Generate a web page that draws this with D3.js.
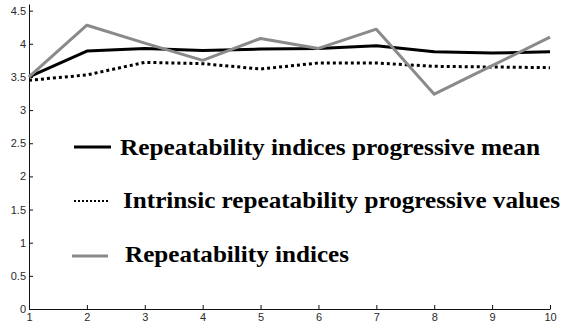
<!DOCTYPE html>
<html>
<head>
<meta charset="utf-8">
<script src="https://cdn.jsdelivr.net/npm/d3@7"></script>
<style>
  body { margin: 0; background: #fff; }
  .axis text { font-family: Arial, "Liberation Sans", sans-serif; font-size: 11px; fill: #2a2a2a; }
  .axis path, .axis line { stroke: #111; }
  .legend text { font-family: "Times New Roman", "Liberation Serif", serif; font-weight: bold; font-size: 24px; fill: #000; }
</style>
</head>
<body>
<svg id="chart" width="561" height="331"></svg>
<script>
// data
var steps = [1, 2, 3, 4, 5, 6, 7, 8, 9, 10];
var progMean = [3.50, 3.89, 3.93, 3.90, 3.92, 3.93, 3.97, 3.88, 3.86, 3.88];
var intrinsic = [3.45, 3.53, 3.72, 3.70, 3.62, 3.71, 3.71, 3.66, 3.65, 3.64];
var indices = [3.50, 4.28, 4.01, 3.75, 4.08, 3.93, 4.22, 3.24, 3.67, 4.10];
var yTicks = [0, 0.5, 1, 1.5, 2, 2.5, 3, 3.5, 4, 4.5];
var legendNames = [
  "Repeatability indices progressive mean",
  "Intrinsic repeatability progressive values",
  "Repeatability indices"
];

var svg = d3.select("#chart");

var x = d3.scaleLinear().domain([1, 10]).range([29, 550]);
var y = d3.scaleLinear().domain([0, 4.6]).range([309, 4]);

// axes, ticks point inward
svg.append("g")
  .attr("class", "axis")
  .attr("transform", "translate(0,309)")
  .call(d3.axisBottom(x).tickValues(steps).tickFormat(d3.format("d"))
    .tickSizeInner(-4).tickSizeOuter(0).tickPadding(4));

svg.append("g")
  .attr("class", "axis")
  .attr("transform", "translate(29,0)")
  .call(d3.axisLeft(y).tickValues(yTicks).tickFormat(d3.format("~g"))
    .tickSizeInner(-4).tickSizeOuter(0).tickPadding(3));

var line = function (vals) {
  return d3.line()
    .x(function (d, i) { return x(steps[i]); })
    .y(function (d) { return y(d); })(vals);
};

svg.append("path")
  .attr("d", line(intrinsic))
  .attr("fill", "none")
  .attr("stroke", "#000")
  .attr("stroke-width", 3)
  .attr("stroke-dasharray", "3,3");

svg.append("path")
  .attr("d", line(progMean))
  .attr("fill", "none")
  .attr("stroke", "#000")
  .attr("stroke-width", 3)
  .attr("stroke-linejoin", "round");

svg.append("path")
  .attr("d", line(indices))
  .attr("fill", "none")
  .attr("stroke", "#8a8a8a")
  .attr("stroke-width", 3)
  .attr("stroke-linejoin", "round");

// legend
var lg = svg.append("g").attr("class", "legend");
var legendStyle = [
  { color: "#000", dash: null, width: 3, x1: 74, x2: 111, ly: 147, tx: 120, by: 155, len: 420 },
  { color: "#000", dash: "2,2", width: 2, x1: 74, x2: 108, ly: 201, tx: 123, by: 208, len: 437 },
  { color: "#8a8a8a", dash: null, width: 3, x1: 72, x2: 108, ly: 256, tx: 125, by: 262, len: 224 }
];

legendNames.forEach(function (name, i) {
  var s = legendStyle[i];
  lg.append("line")
    .attr("x1", s.x1).attr("x2", s.x2)
    .attr("y1", s.ly).attr("y2", s.ly)
    .attr("stroke", s.color)
    .attr("stroke-width", s.width)
    .attr("stroke-dasharray", s.dash);
  lg.append("text")
    .attr("x", s.tx)
    .attr("y", s.by)
    .attr("textLength", s.len)
    .attr("lengthAdjust", "spacingAndGlyphs")
    .text(name);
});
</script>
</body>
</html>
